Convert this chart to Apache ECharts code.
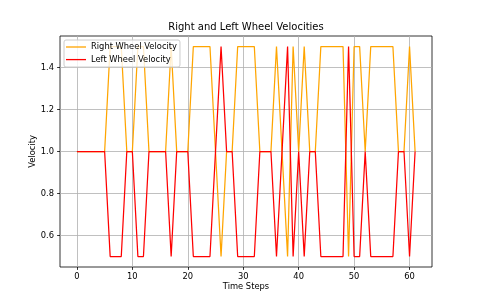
<!DOCTYPE html>
<html>
<head>
<meta charset="utf-8">
<script src="https://cdn.jsdelivr.net/npm/echarts@6/dist/echarts.min.js"></script>
<style>html,body{margin:0;padding:0;background:#fff}#c{width:480px;height:300px}</style>
</head>
<body>
<div id="c"></div>
<script>
const timeSteps = Array.from({length: 62}, (_, i) => i);
const rightWheel = [1,1,1,1,1,1, 1.5,1.5,1.5, 1,1, 1.5,1.5, 1,1,1,1, 1.5, 1,1,1, 1.5,1.5,1.5,1.5, 1, 0.5, 1,1, 1.5,1.5,1.5,1.5, 1,1,1, 1.5, 1, 0.5, 1.5, 1, 1.5, 1,1, 1.5,1.5,1.5,1.5,1.5, 0.5, 1.5,1.5, 1, 1.5,1.5,1.5,1.5,1.5, 1,1, 1.5, 1];
const leftWheel = [1,1,1,1,1,1, 0.5,0.5,0.5, 1,1, 0.5,0.5, 1,1,1,1, 0.5, 1,1,1, 0.5,0.5,0.5,0.5, 1, 1.5, 1,1, 0.5,0.5,0.5,0.5, 1,1,1, 0.5, 1, 1.5, 0.5, 1, 0.5, 1,1, 0.5,0.5,0.5,0.5,0.5, 1.5, 0.5,0.5, 1, 0.5,0.5,0.5,0.5,0.5, 1,1, 0.5, 1];
const xTicks = [0, 10, 20, 30, 40, 50, 60];
const yTicks = [0.6, 0.8, 1.0, 1.2, 1.4];

const font = 'DejaVu Sans';
const fs = 8.33;
const chart = echarts.init(document.getElementById('c'), null, {renderer: 'canvas'});
chart.setOption({
  animation: false,
  backgroundColor: '#fff',
  title: {
    text: 'Right and Left Wheel Velocities',
    left: 246, top: 22, textAlign: 'center', padding: 0,
    textStyle: {fontFamily: font, fontSize: 10, fontWeight: 'normal', color: '#000'}
  },
  legend: {
    orient: 'vertical', left: 64, top: 40,
    itemWidth: 20, itemHeight: 1.3, itemGap: 2.6,
    icon: 'rect',
    padding: [2, 3, 2.4, 2],
    backgroundColor: 'rgba(255,255,255,0.8)',
    borderColor: '#cccccc', borderWidth: 1, borderRadius: 2,
    textStyle: {fontFamily: font, fontSize: fs, color: '#000', lineHeight: 10},
    data: ['Right Wheel Velocity', 'Left Wheel Velocity']
  },
  grid: {left: 60, right: 48, top: 36, bottom: 33, show: true, borderColor: '#000', borderWidth: 0.8,
    backgroundColor: 'transparent', outerBoundsMode: 'none', containLabel: false},
  xAxis: {
    type: 'value', min: -3.05, max: 64.05, splitNumber: 7,
    name: 'Time Steps', nameLocation: 'middle', nameGap: 16, nameMoveOverlap: false,
    nameTextStyle: {fontFamily: font, fontSize: fs, color: '#000'},
    axisLine: {show: false, onZero: false},
    axisTick: {show: true, length: 2.9, lineStyle: {color: '#000', width: 0.8}, customValues: xTicks},
    axisLabel: {fontFamily: font, fontSize: fs, color: '#000', margin: 6, customValues: xTicks},
    splitLine: {show: true, lineStyle: {color: '#b0b0b0', width: 0.8}}
  },
  yAxis: {
    type: 'value', min: 0.45, max: 1.55, splitNumber: 5,
    name: 'Velocity', nameLocation: 'middle', nameGap: 23, nameRotate: 90, nameMoveOverlap: false,
    nameTextStyle: {fontFamily: font, fontSize: fs, color: '#000'},
    axisLine: {show: false, onZero: false},
    axisTick: {show: true, length: 2.9, lineStyle: {color: '#000', width: 0.8}, customValues: yTicks},
    axisLabel: {fontFamily: font, fontSize: fs, color: '#000', margin: 6, customValues: yTicks,
      formatter: v => v.toFixed(1)},
    splitLine: {show: true, lineStyle: {color: '#b0b0b0', width: 0.8}}
  },
  series: [
    {name: 'Right Wheel Velocity', type: 'line', symbol: 'none', color: '#FFA500',
     lineStyle: {width: 1.25, color: '#FFA500'},
     data: timeSteps.map((t, i) => [t, rightWheel[i]])},
    {name: 'Left Wheel Velocity', type: 'line', symbol: 'none', color: '#FF0000',
     lineStyle: {width: 1.25, color: '#FF0000'},
     data: timeSteps.map((t, i) => [t, leftWheel[i]])}
  ]
});
</script>
</body>
</html>
